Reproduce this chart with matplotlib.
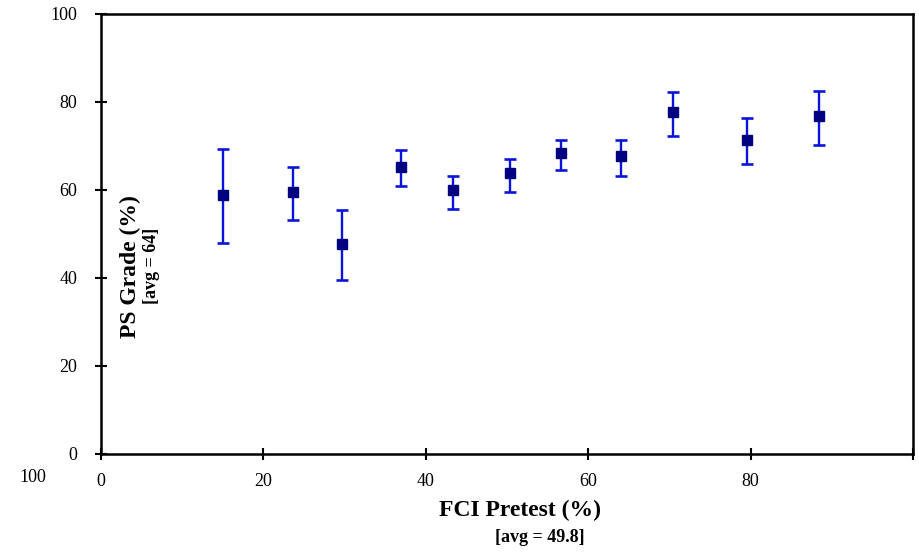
import matplotlib
matplotlib.use("Agg")
import matplotlib.pyplot as plt
import numpy as np

plt.rcParams['font.family'] = ['Liberation Serif', 'DejaVu Serif']

fci_pretest = [15.0, 23.6, 29.7, 36.9, 43.3, 50.4, 56.6, 64.0, 70.5, 79.5, 88.4]
ps_grade    = [58.9, 59.5, 47.8, 65.3, 59.9, 63.8, 68.5, 67.7, 77.7, 71.4, 76.9]
err_high    = [69.3, 65.2, 55.4, 69.0, 63.2, 67.0, 71.4, 71.4, 82.3, 76.4, 82.6]
err_low     = [48.0, 53.2, 39.6, 61.0, 55.7, 59.5, 64.6, 63.1, 72.3, 66.0, 70.2]
x_ticks = [0, 20, 40, 60, 80, 100]
x_tick_labels = ["0", "20", "40", "60", "80", ""]
y_ticks = [0, 20, 40, 60, 80, 100]

fig = plt.figure(figsize=(9.19, 5.52), dpi=100)
ax = fig.add_axes([101/919, 98/552, (913-101)/919, (454-14)/552])

y = np.array(ps_grade)
yerr = [y - np.array(err_low), np.array(err_high) - y]
ax.errorbar(fci_pretest, ps_grade, yerr=yerr, fmt='s', color='#0000CC',
            ecolor='#0A14D8', elinewidth=1.7, capsize=4.5, capthick=1.9,
            markersize=7.5, markerfacecolor='#000080', markeredgecolor='#000080',
            zorder=3)

ax.set_xlim(0, 100)
ax.set_ylim(0, 100)
ax.set_xticks(x_ticks)
ax.set_xticklabels(x_tick_labels)
ax.set_yticks(y_ticks)
ax.tick_params(direction='inout', length=8, width=1.5, labelsize=13)
ax.tick_params(axis='x', pad=10)
ax.tick_params(axis='y', pad=13)
for s in ax.spines.values():
    s.set_linewidth(1.8)

fig.text(33/919, 1 - 478/552, "100", fontsize=13, ha='center', va='center')
fig.text(520/919, 1 - 510/552, "FCI Pretest (%)", fontsize=17, fontweight='bold',
         ha='center', va='center')
fig.text(540/919, 1 - 537/552, "[avg = 49.8]", fontsize=13, fontweight='bold',
         ha='center', va='center')
fig.text(130/919, 1 - 267/552, "PS Grade (%)", fontsize=17, fontweight='bold',
         ha='center', va='center', rotation=90)
fig.text(151/919, 1 - 266/552, "[avg = 64]", fontsize=13, fontweight='bold',
         ha='center', va='center', rotation=90)

fig.savefig("out.png", dpi=100)
